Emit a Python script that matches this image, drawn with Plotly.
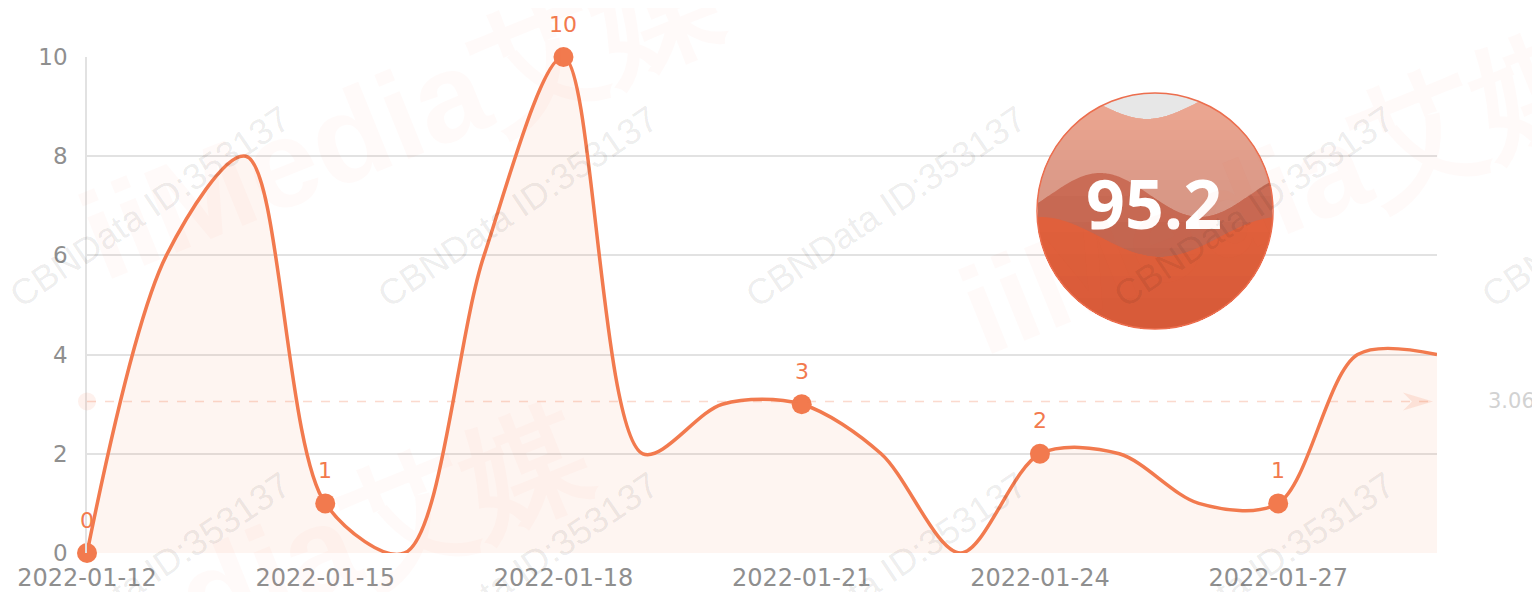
import numpy as np
import plotly.graph_objects as go

# ---------------- data ----------------
dates = ["2022-01-12", "2022-01-13", "2022-01-14", "2022-01-15", "2022-01-16", "2022-01-17",
         "2022-01-18", "2022-01-19", "2022-01-20", "2022-01-21", "2022-01-22", "2022-01-23",
         "2022-01-24", "2022-01-25", "2022-01-26", "2022-01-27", "2022-01-28", "2022-01-29"]
values = [0, 6, 8, 1, 0, 6, 10, 2, 3, 3, 2, 0, 2, 2, 1, 1, 4, 4]
tick_dates = ["2022-01-12", "2022-01-15", "2022-01-18", "2022-01-21", "2022-01-24", "2022-01-27"]
y_ticks = [0, 2, 4, 6, 8, 10]
gauge_value = 95.2
watermark_text = "CBNData ID:353137"
brand_text = "iiMedia艾媒"

label_vals = [values[dates.index(d)] for d in tick_dates]
mean_val = float(np.mean(values))

# ---------------- style ----------------
OFF = 8                      # page body margin
W, H = 1540 - OFF, 592 - OFF
ML, MT = 87, 57              # plot area origin in window pixels
PW, PH = 1350, 496
LINE = "#F27A4E"
AXIS_TXT = "#8f8f8f"
FONT = "DejaVu Sans"


def to_paper(x, y):
    return (x - ML) / PW, (MT + PH - y) / PH


fig = go.Figure()
fig.add_trace(go.Scatter(
    x=dates, y=values, mode="lines",
    line=dict(color=LINE, width=3.5, shape="spline", smoothing=0.9),
    fill="tozeroy", fillcolor="rgba(242,122,78,0.08)",
    hoverinfo="skip", showlegend=False, cliponaxis=True))
fig.add_trace(go.Scatter(
    x=tick_dates, y=label_vals, mode="markers",
    marker=dict(color=LINE, size=20), showlegend=False, cliponaxis=False))

annotations = []
for d, v in zip(tick_dates, label_vals):
    annotations.append(dict(x=d, y=v, xref="x", yref="y", text=str(v), showarrow=False,
                            xanchor="center", yanchor="middle",
                            yshift=33, font=dict(family=FONT, size=22, color=LINE)))

shapes = []
# average line
shapes.append(dict(type="line", xref="paper", yref="y", x0=0, x1=1, y0=mean_val, y1=mean_val,
                   line=dict(color="rgba(242,122,78,0.28)", width=1.5, dash="dash"), layer="above"))
shapes.append(dict(type="circle", xref="paper", yref="y", xsizemode="pixel", ysizemode="pixel",
                   xanchor=0, yanchor=mean_val, x0=-9, x1=9, y0=-9, y1=9,
                   fillcolor="rgba(242,122,78,0.10)", line=dict(width=0), layer="above"))
shapes.append(dict(type="path", xref="paper", yref="y", xsizemode="pixel", ysizemode="pixel",
                   xanchor=1, yanchor=mean_val, path="M -4,0 L -34,9 L -25,0 L -34,-9 Z",
                   fillcolor="rgba(242,122,78,0.16)", line=dict(width=0), layer="above"))
annotations.append(dict(x=(1486 - ML) / PW, y=mean_val, xref="paper", yref="y", xanchor="left",
                        yanchor="middle", text=f"{mean_val:.2f}", showarrow=False,
                        font=dict(family=FONT, size=21, color="#d2d2d2")))

# white background behind gauge (hides grid)
bx0, by0 = to_paper(1014, 345)
bx1, by1 = to_paper(1297, 59)
shapes.append(dict(type="rect", xref="paper", yref="paper", x0=bx0, x1=bx1, y0=by0, y1=by1,
                   fillcolor="white", line=dict(width=0), layer="between"))

# liquid gauge
CX, CY, R = 1155, 211, 118


def region_path(top_fn, n=220):
    xs = np.linspace(CX - R, CX + R, n + 1)
    xv, tops, bots = [], [], []
    for x in xs:
        h = np.sqrt(max(R * R - (x - CX) ** 2, 0.0))
        t = max(top_fn(x), CY - h)
        b = CY + h
        if t < b:
            xv.append(x); tops.append(t); bots.append(b)
    pts = list(zip(xv, tops)) + list(zip(xv[::-1], bots[::-1]))
    parts = []
    for x, y in pts:
        px, py = to_paper(x, y)
        parts.append(f"{px:.5f},{py:.5f}")
    return "M " + " L ".join(parts) + " Z"


def wave1(x):
    return 104 + 15 * np.cos(2 * np.pi * (x - 1147) / 190)


def wave2(x):
    return 195 + 22 * np.cos(2 * np.pi * (x - 1200) / 200)


def wave3(x):
    return 237 + 20 * np.cos(2 * np.pi * (x - 1160) / 240)


cx0, cy0 = to_paper(CX - R, CY + R)
cx1, cy1 = to_paper(CX + R, CY - R)
shapes.append(dict(type="circle", xref="paper", yref="paper", x0=cx0, x1=cx1, y0=cy0, y1=cy1,
                   fillcolor="#E7E7E7", line=dict(width=0), layer="above"))


def lerp(c1, c2, t):
    return "rgb(%d,%d,%d)" % tuple(int(round(a + (b - a) * t)) for a, b in zip(c1, c2))


N = 18
for k, yk in enumerate(np.linspace(90, 260, N)):
    col = lerp((238, 168, 146), (202, 140, 126), k / (N - 1))
    shapes.append(dict(type="path", xref="paper", yref="paper",
                       path=region_path(lambda x, yk=yk: max(wave1(x), yk)),
                       fillcolor=col, line=dict(width=0), layer="above"))
M = 6
for k, yk in enumerate(np.linspace(170, 300, M)):
    col = lerp((202, 108, 86), (186, 94, 72), k / (M - 1))
    shapes.append(dict(type="path", xref="paper", yref="paper",
                       path=region_path(lambda x, yk=yk: max(wave2(x), yk)),
                       fillcolor=col, line=dict(width=0), layer="above"))
for k, yk in enumerate(np.linspace(210, 320, M)):
    col = lerp((224, 96, 60), (214, 90, 56), k / (M - 1))
    shapes.append(dict(type="path", xref="paper", yref="paper",
                       path=region_path(lambda x, yk=yk: max(wave3(x), yk)),
                       fillcolor=col, line=dict(width=0), layer="above"))
shapes.append(dict(type="circle", xref="paper", yref="paper", x0=cx0, x1=cx1, y0=cy0, y1=cy1,
                   fillcolor="rgba(0,0,0,0)", line=dict(color="#EC6E4E", width=1.5), layer="above"))
tx, ty = to_paper(1154, 203)
annotations.append(dict(x=tx, y=ty, xref="paper", yref="paper", text=f"<b>{gauge_value}</b>",
                        xanchor="center", yanchor="middle",
                        showarrow=False, font=dict(family="Open Sans", size=68, color="white")))

# watermarks
for cx in [150, 518, 886, 1254, 1622]:
    for cy in [207, 572]:
        wx, wy = to_paper(cx, cy)
        annotations.append(dict(x=wx, y=wy, xref="paper", yref="paper", text=watermark_text,
                                xanchor="center", yanchor="middle",
                                showarrow=False, textangle=-34,
                                font=dict(family="Liberation Sans", size=36, color="rgba(0,0,0,0.085)")))
for cx, cy in [(400, 115), (1280, 190), (270, 570)]:
    wx, wy = to_paper(cx, cy)
    annotations.append(dict(x=wx, y=wy, xref="paper", yref="paper", text=f"<b>{brand_text}</b>",
                            xanchor="center", yanchor="middle",
                            showarrow=False, textangle=-22,
                            font=dict(family="Liberation Sans", size=125, color="rgba(240,80,60,0.03)")))

fig.update_layout(
    width=W, height=H,
    margin=dict(l=ML - OFF, r=W - (ML - OFF) - PW, t=MT - OFF, b=H - (MT - OFF) - PH, pad=0,
                autoexpand=False),
    paper_bgcolor="white", plot_bgcolor="white",
    showlegend=False,
    shapes=shapes, annotations=annotations,
    xaxis=dict(type="date", range=[dates[0], dates[-1]], tickvals=tick_dates,
               tickformat="%Y-%m-%d", showgrid=False, zeroline=False, showline=False,
               ticks="", ticklabelstandoff=8, automargin=False,
               tickfont=dict(family=FONT, size=24, color=AXIS_TXT), fixedrange=True),
    yaxis=dict(range=[0, 10], tickvals=y_ticks, showgrid=True, gridcolor="#e2e2e2", gridwidth=1.5,
               zeroline=False, showline=True, linecolor="#e2e2e2", linewidth=1.5, ticks="",
               ticklabelstandoff=13, automargin=False,
               tickfont=dict(family=FONT, size=23, color=AXIS_TXT), fixedrange=True),
)

fig.write_html("out.html")
